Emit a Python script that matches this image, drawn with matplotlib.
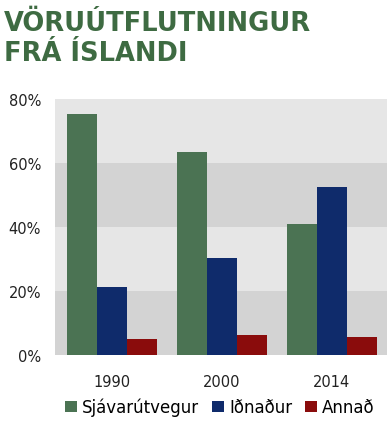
import matplotlib
matplotlib.use("Agg")
import matplotlib.pyplot as plt
import numpy as np

years = ["1990", "2000", "2014"]
series = ["Sjávarútvegur", "Iðnaður", "Annað"]
sjavarutvegur = [75.3, 63.5, 40.9]
idnadur = [21.2, 30.3, 52.4]
annad = [5.0, 6.3, 5.7]
yticks = [0, 20, 40, 60, 80]
title_lines = ["VÖRUÚTFLUTNINGUR", "FRÁ ÍSLANDI"]

colors = ["#4b7353", "#0f2b6b", "#8a0c0c"]
TITLE_GREEN = "#3e6b42"

fig = plt.figure(figsize=(3.9, 4.31), dpi=100)
ax = fig.add_axes([55 / 390, 1 - 356 / 431, 332 / 390, 256 / 431])

# alternating horizontal bands
for i, lo in enumerate(yticks[:-1]):
    ax.axhspan(lo, lo + 20, color="#d3d3d3" if i % 2 == 0 else "#e6e6e6", lw=0, zorder=0)

x = np.arange(len(years))
w = 0.273
for k, (vals, c, name) in enumerate(zip([sjavarutvegur, idnadur, annad], colors, series)):
    ax.bar(x + (k - 1) * w, vals, width=w, color=c, label=name, zorder=2)

ax.set_xlim(-0.518, 2.5)
ax.set_ylim(0, 80)
ax.set_yticks(yticks)
ax.set_yticklabels([f"{v}%" for v in yticks], fontsize=10.5, color="#222222")
ax.set_xticks(x)
ax.set_xticklabels(years, fontsize=10.5, color="#222222")
ax.tick_params(length=0, pad=10)
ax.tick_params(axis="x", pad=14)
for s in ax.spines.values():
    s.set_visible(False)

for line, base in zip(title_lines, [31, 61]):
    fig.text(4 / 390, 1 - base / 431, line, ha="left", va="baseline",
             fontsize=18.5, fontweight="bold", color=TITLE_GREEN)

fig.legend(loc="center", bbox_to_anchor=(220 / 390, 1 - 408 / 431), ncol=3,
           frameon=False, fontsize=12, handlelength=0.7, handleheight=0.7,
           handletextpad=0.3, columnspacing=0.8, borderaxespad=0)

fig.savefig("out.png", dpi=100)
